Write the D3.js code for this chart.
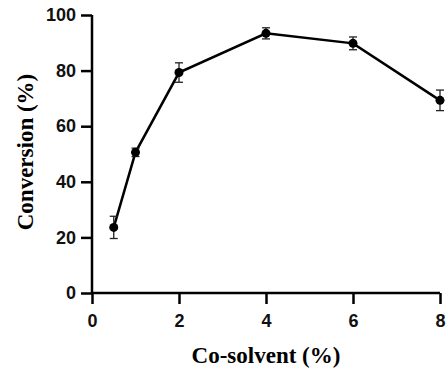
<!DOCTYPE html>
<html>
<head>
<meta charset="utf-8">
<script src="https://cdn.jsdelivr.net/npm/d3@7"></script>
<style>
	body { margin: 0; background: #fff; }
	.tick text { font-family: "Liberation Sans", Arial, sans-serif; font-weight: bold; }
</style>
</head>
<body>
<svg id="chart" width="447" height="376"></svg>
<script>
// co-solvent (%) vs conversion (%)
const cosolvent = [0.5, 1, 2, 4, 6, 8];
const conversion = [23.6, 50.6, 79.3, 93.4, 89.8, 69.3];
const errors = [4, 1.5, 3.5, 2, 2.3, 3.7];
const xTicks = [0, 2, 4, 6, 8];
const yTicks = [0, 20, 40, 60, 80, 100];

const svg = d3.select('#chart');
const margin = {left: 92, right: 7, top: 15, bottom: 83};
const width = 447 - margin.left - margin.right;
const height = 376 - margin.top - margin.bottom;

const g = svg.append('g').attr('transform', `translate(${margin.left},${margin.top})`);

const x = d3.scaleLinear().domain([0, 8]).range([0, width]);
const y = d3.scaleLinear().domain([0, 100]).range([height, 0]);

const xAxis = g.append('g')
	.attr('transform', `translate(0,${height})`)
	.call(d3.axisBottom(x).tickValues(xTicks).tickSize(11).tickPadding(10));
const yAxis = g.append('g')
	.call(d3.axisLeft(y).tickValues(yTicks).tickSize(11).tickPadding(5));

[xAxis, yAxis].forEach(ax => {
	ax.select('.domain').attr('stroke', '#000').attr('stroke-width', 2.5);
	ax.selectAll('.tick line').attr('stroke', '#000').attr('stroke-width', 2.5);
	ax.selectAll('.tick text').attr('fill', '#111').style('font-size', '18px');
});
// remove outer ticks from domain path
xAxis.select('.domain').attr('d', `M0,0H${width}`);
yAxis.select('.domain').attr('d', `M0,${height}V0`);

const pts = cosolvent.map((c, i) => ({x: c, y: conversion[i], e: errors[i]}));

g.append('path')
	.datum(pts)
	.attr('fill', 'none')
	.attr('stroke', '#000')
	.attr('stroke-width', 2.5)
	.attr('d', d3.line().x(d => x(d.x)).y(d => y(d.y)));

const eb = g.selectAll('.err').data(pts).enter().append('g').attr('class', 'err')
	.attr('stroke', '#222').attr('stroke-width', 1.3);
eb.append('line')
	.attr('x1', d => x(d.x)).attr('x2', d => x(d.x))
	.attr('y1', d => y(d.y - d.e)).attr('y2', d => y(d.y + d.e));
eb.append('line')
	.attr('x1', d => x(d.x) - 4).attr('x2', d => x(d.x) + 4)
	.attr('y1', d => y(d.y + d.e)).attr('y2', d => y(d.y + d.e));
eb.append('line')
	.attr('x1', d => x(d.x) - 4).attr('x2', d => x(d.x) + 4)
	.attr('y1', d => y(d.y - d.e)).attr('y2', d => y(d.y - d.e));

g.selectAll('.dot').data(pts).enter().append('circle')
	.attr('cx', d => x(d.x)).attr('cy', d => y(d.y))
	.attr('r', 4.5).attr('fill', '#000');

// axis titles
svg.append('text')
	.attr('x', 266).attr('y', 363)
	.attr('text-anchor', 'middle')
	.style('font-family', '"Liberation Serif", "Times New Roman", serif')
	.style('font-weight', 'bold').style('font-size', '23px')
	.text('Co-solvent (%)');

svg.append('text')
	.attr('transform', 'translate(33,152) rotate(-90)')
	.attr('text-anchor', 'middle')
	.style('font-family', '"Liberation Serif", "Times New Roman", serif')
	.style('font-weight', 'bold').style('font-size', '23px')
	.text('Conversion (%)');
</script>
</body>
</html>
